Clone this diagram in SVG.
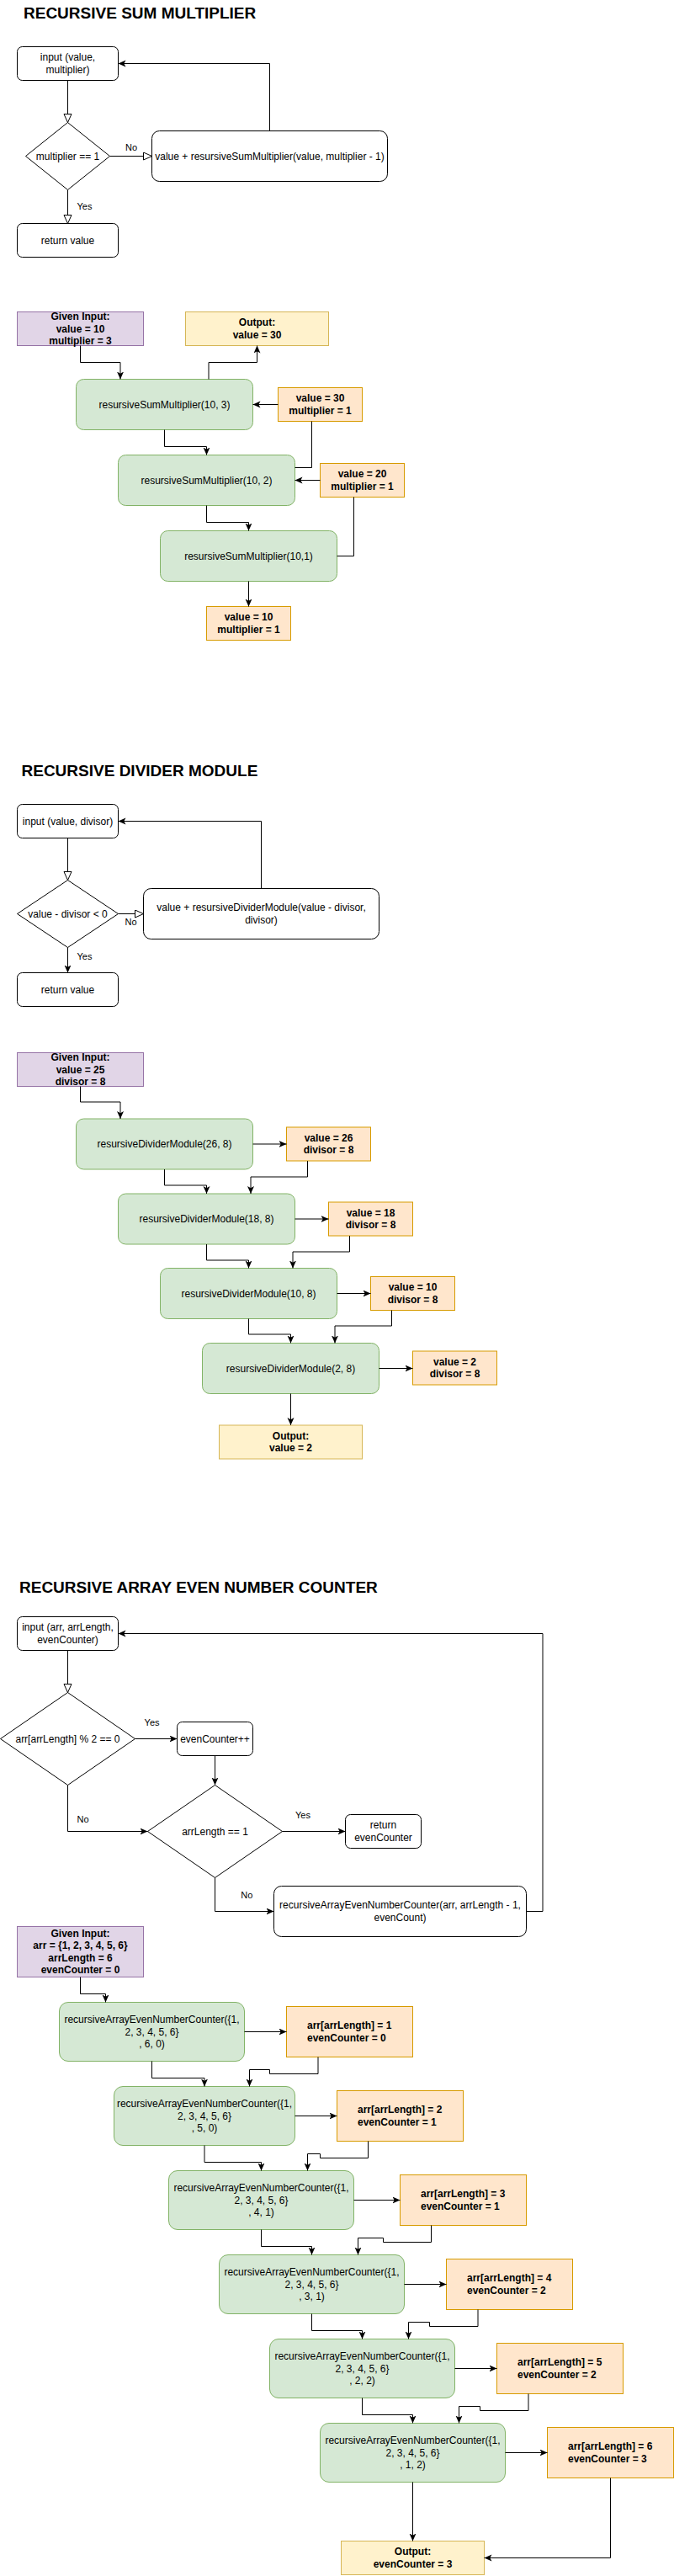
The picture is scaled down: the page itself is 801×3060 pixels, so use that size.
<svg xmlns="http://www.w3.org/2000/svg" width="801" height="3060" viewBox="0 0 801 3060">
<style>
.n{fill:#fff;stroke:#000;stroke-width:1}
.g{fill:#d5e8d4;stroke:#82b366;stroke-width:1}
.o{fill:#ffe6cc;stroke:#d79b00;stroke-width:1}
.p{fill:#e1d5e7;stroke:#9673a6;stroke-width:1}
.y{fill:#fff2cc;stroke:#d6b656;stroke-width:1}
text{font-family:"Liberation Sans",Arial,Helvetica,sans-serif;font-size:12px;fill:#000}
.t{text-anchor:middle}
.s{text-anchor:start}
.b{font-weight:bold}
.l{font-size:11px;text-anchor:middle}
.h{font-size:19px;font-weight:bold;text-anchor:start}
.e{fill:none;stroke:#000;stroke-width:1}
.ea{fill:none;stroke:#000;stroke-width:1;marker-end:url(#a)}
.eo{fill:none;stroke:#000;stroke-width:1;marker-end:url(#ob)}
</style>
<defs>
<marker id="a" markerUnits="userSpaceOnUse" markerWidth="10" markerHeight="10" refX="9" refY="4" orient="auto"><path d="M0,0 L9,4 L0,8 L2.2,4 Z" fill="#000"/></marker>
<marker id="ob" markerUnits="userSpaceOnUse" markerWidth="13" markerHeight="11" refX="10.5" refY="5" orient="auto"><path d="M0.5,0.5 L10.5,5 L0.5,9.5 Z" fill="#fff" stroke="#000" stroke-width="1"/></marker>
</defs>
<rect x="0" y="0" width="801" height="3060" fill="#fff"/>

<!-- ================= SECTION 1 ================= -->
<g id="title1"><text class="h" x="28" y="22">RECURSIVE SUM MULTIPLIER</text></g>
<g id="s1-input"><rect class="n" x="20.5" y="55.5" width="120" height="40" rx="6"/><text class="t" x="80.5" y="72.3">input (value,</text><text class="t" x="80.5" y="86.7">multiplier)</text></g>
<g id="s1-cond"><polygon class="n" points="80.5,145.5 130.5,185.5 80.5,225.5 30.5,185.5"/><text class="t" x="80.5" y="189.5">multiplier == 1</text></g>
<g id="s1-rec"><rect class="n" x="180.5" y="155.5" width="280" height="60" rx="9"/><text class="t" x="320.5" y="189.5">value + resursiveSumMultiplier(value, multiplier - 1)</text></g>
<g id="s1-return"><rect class="n" x="20.5" y="265.5" width="120" height="40" rx="6"/><text class="t" x="80.5" y="289.5">return value</text></g>

<g id="s1-given"><rect class="p" x="20.5" y="370.5" width="150" height="40"/><text class="t b" x="95.5" y="380.1">Given Input:</text><text class="t b" x="95.5" y="394.5">value = 10</text><text class="t b" x="95.5" y="408.9">multiplier = 3</text></g>
<g id="s1-output"><rect class="y" x="220.5" y="370.5" width="170" height="40"/><text class="t b" x="305.5" y="387.3">Output:</text><text class="t b" x="305.5" y="401.7">value = 30</text></g>
<g id="s1-call1"><rect class="g" x="90.5" y="450.5" width="210" height="60" rx="9"/><text class="t" x="195.5" y="484.5">resursiveSumMultiplier(10, 3)</text></g>
<g id="s1-val1"><rect class="o" x="330.5" y="460.5" width="100" height="40"/><text class="t b" x="380.5" y="477.3">value = 30</text><text class="t b" x="380.5" y="491.7">multiplier = 1</text></g>
<g id="s1-call2"><rect class="g" x="140.5" y="540.5" width="210" height="60" rx="9"/><text class="t" x="245.5" y="574.5">resursiveSumMultiplier(10, 2)</text></g>
<g id="s1-val2"><rect class="o" x="380.5" y="550.5" width="100" height="40"/><text class="t b" x="430.5" y="567.3">value = 20</text><text class="t b" x="430.5" y="581.7">multiplier = 1</text></g>
<g id="s1-call3"><rect class="g" x="190.5" y="630.5" width="210" height="60" rx="9"/><text class="t" x="295.5" y="664.5">resursiveSumMultiplier(10,1)</text></g>
<g id="s1-val3"><rect class="o" x="245.5" y="720.5" width="100" height="40"/><text class="t b" x="295.5" y="737.3">value = 10</text><text class="t b" x="295.5" y="751.7">multiplier = 1</text></g>

<!-- ================= SECTION 2 ================= -->
<g id="title2"><text class="h" x="25.5" y="922">RECURSIVE DIVIDER MODULE</text></g>
<g id="s2-input"><rect class="n" x="20.5" y="955.5" width="120" height="40" rx="6"/><text class="t" x="80.5" y="979.5">input (value, divisor)</text></g>
<g id="s2-cond"><polygon class="n" points="80.5,1045.5 140.5,1085.5 80.5,1125.5 20.5,1085.5"/><text class="t" x="80.5" y="1089.5">value - divisor &lt; 0</text></g>
<g id="s2-rec"><rect class="n" x="170.5" y="1055.5" width="280" height="60" rx="9"/><text class="t" x="310.5" y="1082.3">value + resursiveDividerModule(value - divisor,</text><text class="t" x="310.5" y="1096.7">divisor)</text></g>
<g id="s2-return"><rect class="n" x="20.5" y="1155.5" width="120" height="40" rx="6"/><text class="t" x="80.5" y="1179.5">return value</text></g>

<g id="s2-given"><rect class="p" x="20.5" y="1250.5" width="150" height="40"/><text class="t b" x="95.5" y="1260.1">Given Input:</text><text class="t b" x="95.5" y="1274.5">value = 25</text><text class="t b" x="95.5" y="1288.9">divisor = 8</text></g>
<g id="s2-call1"><rect class="g" x="90.5" y="1329" width="210" height="60" rx="9"/><text class="t" x="195.5" y="1363">resursiveDividerModule(26, 8)</text></g>
<g id="s2-val1"><rect class="o" x="340.5" y="1339" width="100" height="40"/><text class="t b" x="390.5" y="1355.8">value = 26</text><text class="t b" x="390.5" y="1370.2">divisor = 8</text></g>
<g id="s2-call2"><rect class="g" x="140.5" y="1418" width="210" height="60" rx="9"/><text class="t" x="245.5" y="1452">resursiveDividerModule(18, 8)</text></g>
<g id="s2-val2"><rect class="o" x="390.5" y="1428" width="100" height="40"/><text class="t b" x="440.5" y="1444.8">value = 18</text><text class="t b" x="440.5" y="1459.2">divisor = 8</text></g>
<g id="s2-call3"><rect class="g" x="190.5" y="1506.5" width="210" height="60" rx="9"/><text class="t" x="295.5" y="1540.5">resursiveDividerModule(10, 8)</text></g>
<g id="s2-val3"><rect class="o" x="440.5" y="1516.5" width="100" height="40"/><text class="t b" x="490.5" y="1533.3">value = 10</text><text class="t b" x="490.5" y="1547.7">divisor = 8</text></g>
<g id="s2-call4"><rect class="g" x="240.5" y="1595.5" width="210" height="60" rx="9"/><text class="t" x="345.5" y="1629.5">resursiveDividerModule(2, 8)</text></g>
<g id="s2-val4"><rect class="o" x="490.5" y="1605" width="100" height="40"/><text class="t b" x="540.5" y="1621.8">value = 2</text><text class="t b" x="540.5" y="1636.2">divisor = 8</text></g>
<g id="s2-output"><rect class="y" x="260.5" y="1693" width="170" height="40"/><text class="t b" x="345.5" y="1709.8">Output:</text><text class="t b" x="345.5" y="1724.2">value = 2</text></g>

<!-- ================= SECTION 3 ================= -->
<g id="title3"><text class="h" x="23" y="1892">RECURSIVE ARRAY EVEN NUMBER COUNTER</text></g>
<g id="s3-input"><rect class="n" x="20.5" y="1920.5" width="120" height="40" rx="6"/><text class="t" x="80.5" y="1937.3">input (arr, arrLength,</text><text class="t" x="80.5" y="1951.7">evenCounter)</text></g>
<g id="s3-cond1"><polygon class="n" points="80.5,2010.5 160.5,2065.5 80.5,2120.5 0.5,2065.5"/><text class="t" x="80.5" y="2069.5">arr[arrLength] % 2 == 0</text></g>
<g id="s3-inc"><rect class="n" x="210.5" y="2045.5" width="90" height="40" rx="6"/><text class="t" x="255.5" y="2069.5">evenCounter++</text></g>
<g id="s3-cond2"><polygon class="n" points="255.5,2120.5 335.5,2175.5 255.5,2230.5 175.5,2175.5"/><text class="t" x="255.5" y="2179.5">arrLength == 1</text></g>
<g id="s3-return"><rect class="n" x="410.5" y="2155.5" width="90" height="40" rx="6"/><text class="t" x="455.5" y="2172.3">return</text><text class="t" x="455.5" y="2186.7">evenCounter</text></g>
<g id="s3-rec"><rect class="n" x="325.5" y="2240.5" width="300" height="60" rx="9"/><text class="t" x="475.5" y="2267.3">recursiveArrayEvenNumberCounter(arr, arrLength - 1,</text><text class="t" x="475.5" y="2281.7">evenCount)</text></g>

<g id="s3-given"><rect class="p" x="20.5" y="2288.5" width="150" height="60"/><text class="t b" x="95.5" y="2300.9">Given Input:</text><text class="t b" x="95.5" y="2315.3">arr = {1, 2, 3, 4, 5, 6}</text><text class="t b" x="95.5" y="2329.7">arrLength = 6</text><text class="t b" x="95.5" y="2344.1">evenCounter = 0</text></g>

<g id="s3-call1"><rect class="g" x="70.5" y="2378.5" width="220" height="70" rx="10.5"/><text class="t" x="180.5" y="2403.1">recursiveArrayEvenNumberCounter({1,</text><text class="t" x="180.5" y="2417.5">2, 3, 4, 5, 6}</text><text class="t" x="180.5" y="2431.9">, 6, 0)</text></g>
<g id="s3-val1"><rect class="o" x="340.5" y="2383.5" width="150" height="60"/><text class="s b" x="365" y="2410.3">arr[arrLength] = 1</text><text class="s b" x="365" y="2424.7">evenCounter = 0</text></g>

<g id="s3-call2"><rect class="g" x="135.5" y="2478.5" width="215" height="70" rx="10.5"/><text class="t" x="243" y="2503.1">recursiveArrayEvenNumberCounter({1,</text><text class="t" x="243" y="2517.5">2, 3, 4, 5, 6}</text><text class="t" x="243" y="2531.9">, 5, 0)</text></g>
<g id="s3-val2"><rect class="o" x="400.5" y="2483.5" width="150" height="60"/><text class="s b" x="425" y="2510.3">arr[arrLength] = 2</text><text class="s b" x="425" y="2524.7">evenCounter = 1</text></g>

<g id="s3-call3"><rect class="g" x="200.5" y="2578.5" width="220" height="70" rx="10.5"/><text class="t" x="310.5" y="2603.1">recursiveArrayEvenNumberCounter({1,</text><text class="t" x="310.5" y="2617.5">2, 3, 4, 5, 6}</text><text class="t" x="310.5" y="2631.9">, 4, 1)</text></g>
<g id="s3-val3"><rect class="o" x="475.5" y="2583.5" width="150" height="60"/><text class="s b" x="500" y="2610.3">arr[arrLength] = 3</text><text class="s b" x="500" y="2624.7">evenCounter = 1</text></g>

<g id="s3-call4"><rect class="g" x="260.5" y="2678.5" width="220" height="70" rx="10.5"/><text class="t" x="370.5" y="2703.1">recursiveArrayEvenNumberCounter({1,</text><text class="t" x="370.5" y="2717.5">2, 3, 4, 5, 6}</text><text class="t" x="370.5" y="2731.9">, 3, 1)</text></g>
<g id="s3-val4"><rect class="o" x="530.5" y="2683.5" width="150" height="60"/><text class="s b" x="555" y="2710.3">arr[arrLength] = 4</text><text class="s b" x="555" y="2724.7">evenCounter = 2</text></g>

<g id="s3-call5"><rect class="g" x="320.5" y="2778.5" width="220" height="70" rx="10.5"/><text class="t" x="430.5" y="2803.1">recursiveArrayEvenNumberCounter({1,</text><text class="t" x="430.5" y="2817.5">2, 3, 4, 5, 6}</text><text class="t" x="430.5" y="2831.9">, 2, 2)</text></g>
<g id="s3-val5"><rect class="o" x="590.5" y="2783.5" width="150" height="60"/><text class="s b" x="615" y="2810.3">arr[arrLength] = 5</text><text class="s b" x="615" y="2824.7">evenCounter = 2</text></g>

<g id="s3-call6"><rect class="g" x="380.5" y="2878.5" width="220" height="70" rx="10.5"/><text class="t" x="490.5" y="2903.1">recursiveArrayEvenNumberCounter({1,</text><text class="t" x="490.5" y="2917.5">2, 3, 4, 5, 6}</text><text class="t" x="490.5" y="2931.9">, 1, 2)</text></g>
<g id="s3-val6"><rect class="o" x="650.5" y="2883.5" width="150" height="60"/><text class="s b" x="675" y="2910.3">arr[arrLength] = 6</text><text class="s b" x="675" y="2924.7">evenCounter = 3</text></g>

<g id="s3-output"><rect class="y" x="405.5" y="3018.5" width="170" height="40"/><text class="t b" x="490.5" y="3035.3">Output:</text><text class="t b" x="490.5" y="3049.7">evenCounter = 3</text></g>

<!-- ================= CONNECTORS ================= -->
<g id="connectors">
<!-- section 1 flowchart -->
<path class="eo" d="M80.5,95.5 V145.5"/>
<path class="eo" d="M130.5,185.5 H180.5"/>
<path class="eo" d="M80.5,225.5 V265.5"/>
<path class="ea" d="M320.5,155.5 V75.5 H140.5"/>
<text class="l" x="156" y="179">No</text>
<text class="l" x="100.5" y="249">Yes</text>
<!-- section 1 trace -->
<path class="ea" d="M95.5,410.5 V430.5 H143 V450.5"/>
<path class="ea" d="M248,450.5 V430.5 H305.5 V410.5"/>
<path class="ea" d="M330.5,480.5 H300.5"/>
<path class="ea" d="M195.5,510.5 V530.5 H245.5 V540.5"/>
<path class="e" d="M370.5,500.5 V555.5 H350.5"/>
<path class="ea" d="M380.5,570.5 H350.5"/>
<path class="ea" d="M245.5,600.5 V620.5 H295.5 V630.5"/>
<path class="e" d="M420.5,590.5 V660.5 H400.5"/>
<path class="ea" d="M295.5,690.5 V720.5"/>
<!-- section 2 flowchart -->
<path class="eo" d="M80.5,995.5 V1045.5"/>
<path class="eo" d="M140.5,1085.5 H170.5"/>
<path class="ea" d="M80.5,1125.5 V1155.5"/>
<path class="ea" d="M310.5,1055.5 V975.5 H140.5"/>
<text class="l" x="155.6" y="1099">No</text>
<text class="l" x="100.5" y="1140">Yes</text>
<!-- section 2 trace -->
<path class="ea" d="M95.5,1290.5 V1309 H143 V1329"/>
<path class="ea" d="M300.5,1359 H340.5"/>
<path class="ea" d="M195.5,1389 V1408 H245.5 V1418"/>
<path class="ea" d="M365.5,1379 V1398 H298 V1418"/>
<path class="ea" d="M350.5,1448 H390.5"/>
<path class="ea" d="M245.5,1478 V1497 H295.5 V1506.5"/>
<path class="ea" d="M415.5,1468 V1487 H348 V1506.5"/>
<path class="ea" d="M400.5,1536.5 H440.5"/>
<path class="ea" d="M295.5,1566.5 V1585 H345.5 V1595.5"/>
<path class="ea" d="M465.5,1556.5 V1575 H398 V1595.5"/>
<path class="ea" d="M450.5,1625.5 H490.5"/>
<path class="ea" d="M345.5,1655.5 V1693"/>
<!-- section 3 flowchart -->
<path class="eo" d="M80.5,1960.5 V2010.5"/>
<path class="ea" d="M160.5,2065.5 H210.5"/>
<path class="ea" d="M255.5,2085.5 V2120.5"/>
<path class="ea" d="M80.5,2120.5 V2175.5 H175.5"/>
<path class="ea" d="M335.5,2175.5 H410.5"/>
<path class="ea" d="M255.5,2230.5 V2270.5 H325.5"/>
<path class="ea" d="M625.5,2270.5 H645 V1940.5 H140.5"/>
<text class="l" x="180.6" y="2050">Yes</text>
<text class="l" x="98.5" y="2165">No</text>
<text class="l" x="360" y="2160">Yes</text>
<text class="l" x="293.4" y="2255">No</text>
<!-- section 3 trace -->
<path class="ea" d="M95.5,2348.5 V2368.5 H125.5 V2378.5"/>
<path class="ea" d="M290.5,2413.5 H340.5"/>
<path class="ea" d="M180.5,2448.5 V2468.5 H243 V2478.5"/>
<path class="ea" d="M378,2443.5 V2463.5 H320.5 V2458.5 H296.5 V2478.5"/>
<path class="ea" d="M350.5,2513.5 H400.5"/>
<path class="ea" d="M243,2548.5 V2568.5 H310.5 V2578.5"/>
<path class="ea" d="M437.5,2543.5 V2563.5 H380.5 V2558.5 H365.5 V2578.5"/>
<path class="ea" d="M420.5,2613.5 H475.5"/>
<path class="ea" d="M310.5,2648.5 V2668.5 H370.5 V2678.5"/>
<path class="ea" d="M512.5,2643.5 V2663.5 H455.5 V2658.5 H425.5 V2678.5"/>
<path class="ea" d="M480.5,2713.5 H530.5"/>
<path class="ea" d="M370.5,2748.5 V2768.5 H430.5 V2778.5"/>
<path class="ea" d="M568,2743.5 V2763.5 H510.5 V2758.5 H485.5 V2778.5"/>
<path class="ea" d="M540.5,2813.5 H590.5"/>
<path class="ea" d="M430.5,2848.5 V2868.5 H490.5 V2878.5"/>
<path class="ea" d="M628,2843.5 V2863.5 H570.5 V2858.5 H545.5 V2878.5"/>
<path class="ea" d="M600.5,2913.5 H650.5"/>
<path class="ea" d="M490.5,2948.5 V3018.5"/>
<path class="ea" d="M725.5,2943.5 V3038.5 H575.5"/>
</g>
</svg>
